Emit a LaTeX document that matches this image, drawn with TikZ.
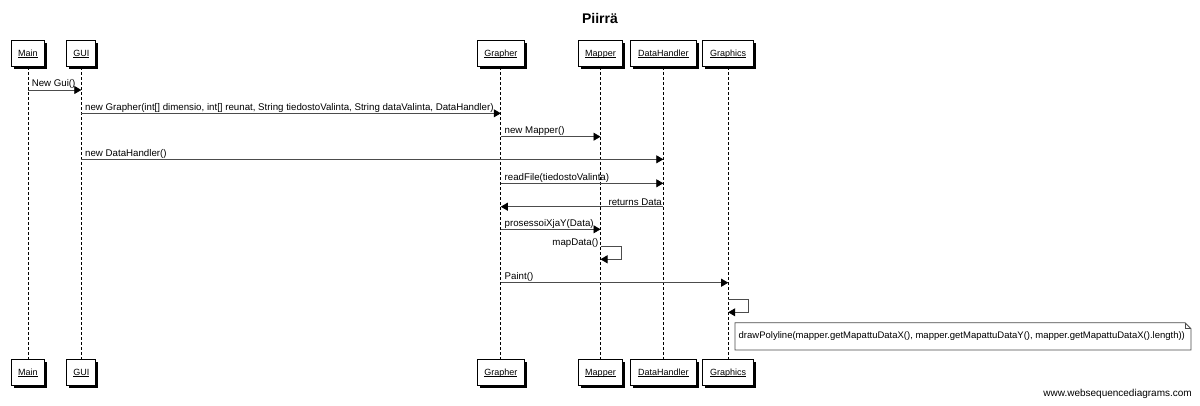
\documentclass[tikz,border=0pt]{standalone}
\usepackage{fontspec}
\setmainfont{Liberation Sans}
\usetikzlibrary{arrows.meta,shadows,calc}
\newcommand\partul[1]{{\setbox0\hbox{#1}\rlap{\rule[-1.6pt]{\wd0}{0.5pt}}\box0}}
\begin{document}
\begin{tikzpicture}[x=1pt,y=-1pt,
  part/.style={draw=black, line width=0.8pt, fill=white, minimum height=26pt, inner sep=0pt,
    text height=6.6pt, text depth=1.6pt,
    font=\fontsize{9}{10}\selectfont,
    drop shadow={shadow xshift=2.5pt, shadow yshift=-2.5pt, fill=black, opacity=1}},
  life/.style={draw=black, line width=0.7pt, dash pattern=on 3pt off 2pt},
  msg/.style={draw=black!70, line width=0.8pt, -{Triangle[length=7pt,width=8pt,fill=black,color=black]}},
  lbl/.style={font=\fontsize{9.7}{11}\selectfont, inner xsep=3.5pt, inner ysep=0.6pt, text=black},
]
\useasboundingbox (0,0) rectangle (1200,405);
\fill[white] (0,0) rectangle (1200,405);

\node[font=\bfseries\fontsize{14}{16}\selectfont] (title) at (600,18) {Piirrä};

% top participants
\node[part, minimum width=32.5pt] (mainT) at (27.9,53.7) {\partul{Main}};
\node[part, minimum width=29pt]   (guiT)  at (81.3,53.7) {\partul{GUI}};
\node[part, minimum width=47pt]   (grT)   at (500.8,53.7) {\partul{Grapher}};
\node[part, minimum width=43.6pt] (mapT)  at (600.5,53.7) {\partul{Mapper}};
\node[part, minimum width=66pt]   (dhT)   at (663.3,53.7) {\partul{DataHandler}};
\node[part, minimum width=51pt]   (gfT)   at (728.2,53.7) {\partul{Graphics}};

% bottom participants
\node[part, minimum width=32.5pt] (mainB) at (27.9,372.7) {\partul{Main}};
\node[part, minimum width=29pt]   (guiB)  at (81.3,372.7) {\partul{GUI}};
\node[part, minimum width=47pt]   (grB)   at (500.8,372.7) {\partul{Grapher}};
\node[part, minimum width=43.6pt] (mapB)  at (600.5,372.7) {\partul{Mapper}};
\node[part, minimum width=66pt]   (dhB)   at (663.3,372.7) {\partul{DataHandler}};
\node[part, minimum width=51pt]   (gfB)   at (728.2,372.7) {\partul{Graphics}};

% lifelines
\draw[life] (mainT) -- (mainB);
\draw[life] (guiT) -- (guiB);
\draw[life] (grT) -- (grB);
\draw[life] (mapT) -- (mapB);
\draw[life] (dhT) -- (dhB);
\draw[life] (gfT) -- (gfB);

% messages
\draw[msg] (mainT |- 0,90) -- (guiT |- 0,90)
  node[lbl, pos=0, anchor=south west] {New Gui()};
\draw[msg] (guiT |- 0,113.3) -- (grT |- 0,113.3)
  node[lbl, pos=0, anchor=south west] {new Grapher(int[] dimensio, int[] reunat, String tiedostoValinta, String dataValinta, DataHandler)};
\draw[msg] (grT |- 0,136.7) -- (mapT |- 0,136.7)
  node[lbl, pos=0, anchor=south west] {new Mapper()};
\draw[msg] (guiT |- 0,159.3) -- (dhT |- 0,159.3)
  node[lbl, pos=0, anchor=south west] {new DataHandler()};
\draw[msg] (grT |- 0,183.3) -- (dhT |- 0,183.3)
  node[lbl, pos=0, anchor=south west] {readFile(tiedostoValinta)};
\draw[msg] (dhT |- 0,206.7) -- (grT |- 0,206.7)
  node[lbl, pos=0, anchor=south east, inner xsep=1pt] {returns Data};
\draw[msg] (grT |- 0,229.3) -- (mapT |- 0,229.3)
  node[lbl, pos=0, anchor=south west] {prosessoiXjaY(Data)};
\draw[msg] (mapT |- 0,246) -- ++(20.5,0) -- ++(0,13.3) -- (mapT |- 0,259.3);
\node[lbl, anchor=east, inner xsep=1pt] (mapdata) at ($(mapT |- 0,242.5)+(-1,0)$) {mapData()};
\draw[msg] (grT |- 0,282.7) -- (gfT |- 0,282.7)
  node[lbl, pos=0, anchor=south west] {Paint()};
\draw[msg] (gfT |- 0,299.3) -- ++(20.5,0) -- ++(0,13) -- (gfT |- 0,312.3);

% note
\coordinate (note) at (963,336.4);
\coordinate (nNW) at (735,322.7);
\coordinate (nNE) at (1191,322.7);
\coordinate (nSE) at (1191,350);
\coordinate (nSW) at (735,350);
\draw[black!70, line width=0.8pt, fill=white]
  (nNW) -- ($(nNE)+(-6,0)$) -- ($(nNE)+(0,6)$) -- (nSE) -- (nSW) -- cycle;
\draw[black!70, line width=0.6pt] ($(nNE)+(-6,0)$) -- ($(nNE)+(-6,6)$) -- ($(nNE)+(0,6)$);
\node[font=\fontsize{9.5}{11}\selectfont, inner sep=0pt, anchor=west] (notetext) at (738.5,336.4) {drawPolyline(mapper.getMapattuDataX(), mapper.getMapattuDataY(), mapper.getMapattuDataX().length))};

\node[font=\fontsize{10}{12}\selectfont, anchor=east, inner sep=0pt] (wm) at (1192,394) {www.websequencediagrams.com};
\end{tikzpicture}
\end{document}
